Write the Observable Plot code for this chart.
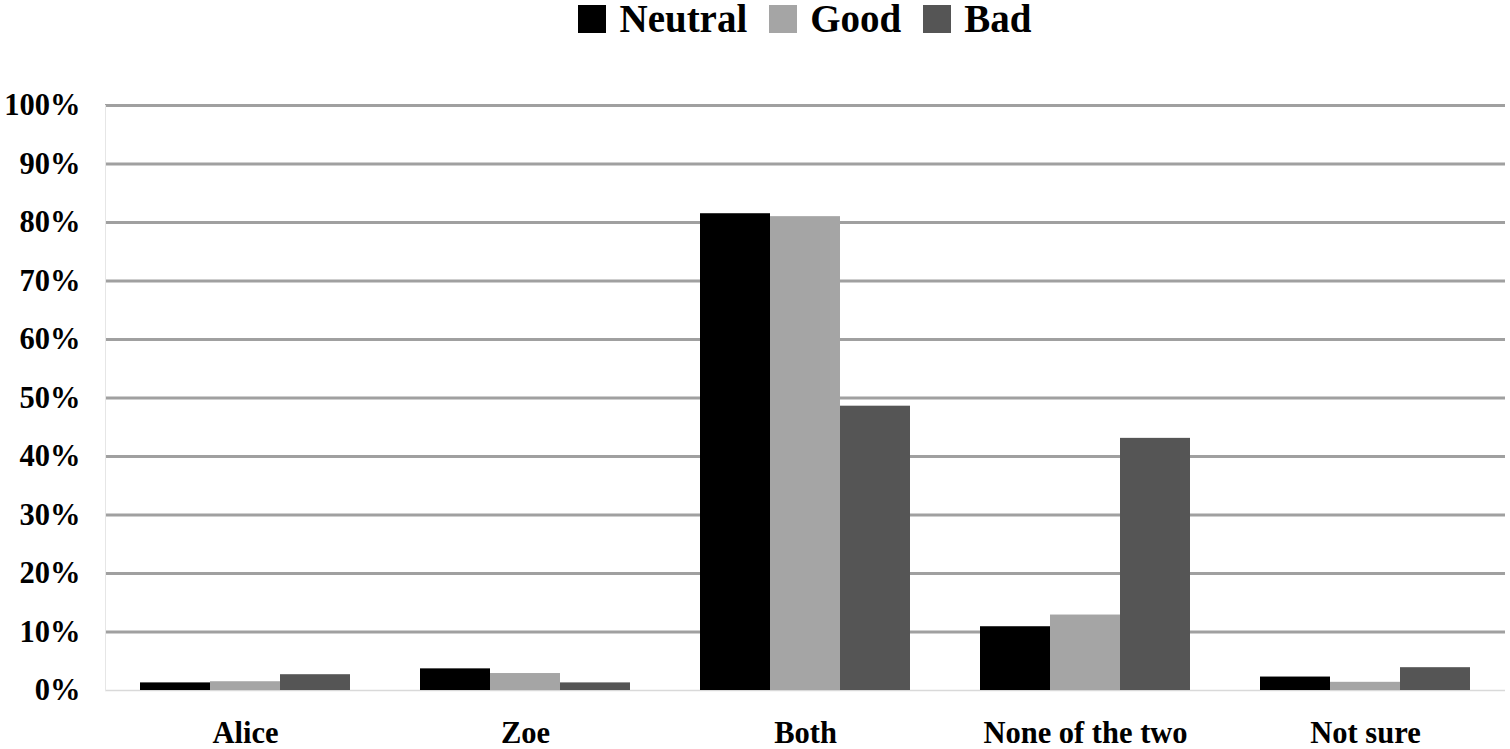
<!DOCTYPE html>
<html>
<head>
<meta charset="utf-8">
<script src="https://cdn.jsdelivr.net/npm/d3@7"></script>
<script src="https://cdn.jsdelivr.net/npm/@observablehq/plot@0.6"></script>
<style>
  html, body { margin: 0; padding: 0; background: #fff; }
  #wrap { position: relative; width: 1510px; height: 749px; }
  #legend { position: absolute; left: 105px; top: -4px; width: 1400px; display: flex; justify-content: center; }
</style>
</head>
<body>
<div id="wrap">
  <div id="chart"></div>
  <div id="legend"></div>
</div>
<script>
const categories = ["Alice", "Zoe", "Both", "None of the two", "Not sure"];
const seriesNames = ["Neutral", "Good", "Bad"];
const seriesColors = ["#000000", "#a5a5a5", "#555555"];
const neutral = [1.3, 3.7, 81.5, 10.9, 2.3];
const good = [1.5, 2.9, 81.0, 12.9, 1.4];
const bad = [2.7, 1.3, 48.6, 43.1, 3.9];
const yTicks = [0, 10, 20, 30, 40, 50, 60, 70, 80, 90, 100];

const seriesValues = [neutral, good, bad];
const data = [];
seriesNames.forEach((s, i) => {
  categories.forEach((c, j) => data.push({category: c, series: s, value: seriesValues[i][j]}));
});

const width = 1510, height = 749;
const marginLeft = 105, marginRight = 5;
const paddingInner = 0.25, paddingOuter = 0.125;
const step = (width - marginLeft - marginRight) / (categories.length - paddingInner + 2 * paddingOuter);
const bw = step * (1 - paddingInner);
const slot = bw / seriesNames.length;

const barMarks = seriesNames.map((s, i) =>
  Plot.barY(data.filter(d => d.series === s), {
    x: "category", y: "value", fill: "series",
    insetLeft: slot * i, insetRight: slot * (seriesNames.length - 1 - i)
  })
);

const chart = Plot.plot({
  width, height,
  marginTop: 105, marginBottom: 59, marginLeft, marginRight,
  style: {fontFamily: "'Liberation Serif', 'Times New Roman', serif", fontWeight: "bold", fontSize: "30.5px", background: "#fff", color: "#000", overflow: "visible"},
  x: {domain: categories, paddingInner, paddingOuter, label: null, tickSize: 0, tickPadding: 31},
  y: {domain: [0, 100], ticks: yTicks, tickFormat: d => d + "%", label: null, tickSize: 0, tickPadding: 25},
  color: {domain: seriesNames, range: seriesColors},
  marks: [
    Plot.ruleY(yTicks.filter(d => d > 0), {stroke: "#a0a0a0", strokeWidth: 3}),
    Plot.ruleY([0], {stroke: "#d9d9d9", strokeWidth: 1.5}),
    Plot.frame({anchor: "left", stroke: "#e6e6e6", strokeWidth: 1}),
    ...barMarks
  ]
});
document.getElementById("chart").appendChild(chart);

const legend = Plot.legend({
  color: {domain: seriesNames, range: seriesColors},
  legend: "swatches",
  swatchSize: 28,
  style: {fontFamily: "'Liberation Serif', 'Times New Roman', serif", fontWeight: "bold", fontSize: "39px", color: "#000", margin: "0"}
});
document.getElementById("legend").appendChild(legend);
const lg = d3.select("#legend");
lg.selectAll("span").style("margin-right", "22px");
lg.selectAll("span:last-child").style("margin-right", "0px");
lg.selectAll("span > svg").style("margin-right", "13px");
</script>
</body>
</html>
